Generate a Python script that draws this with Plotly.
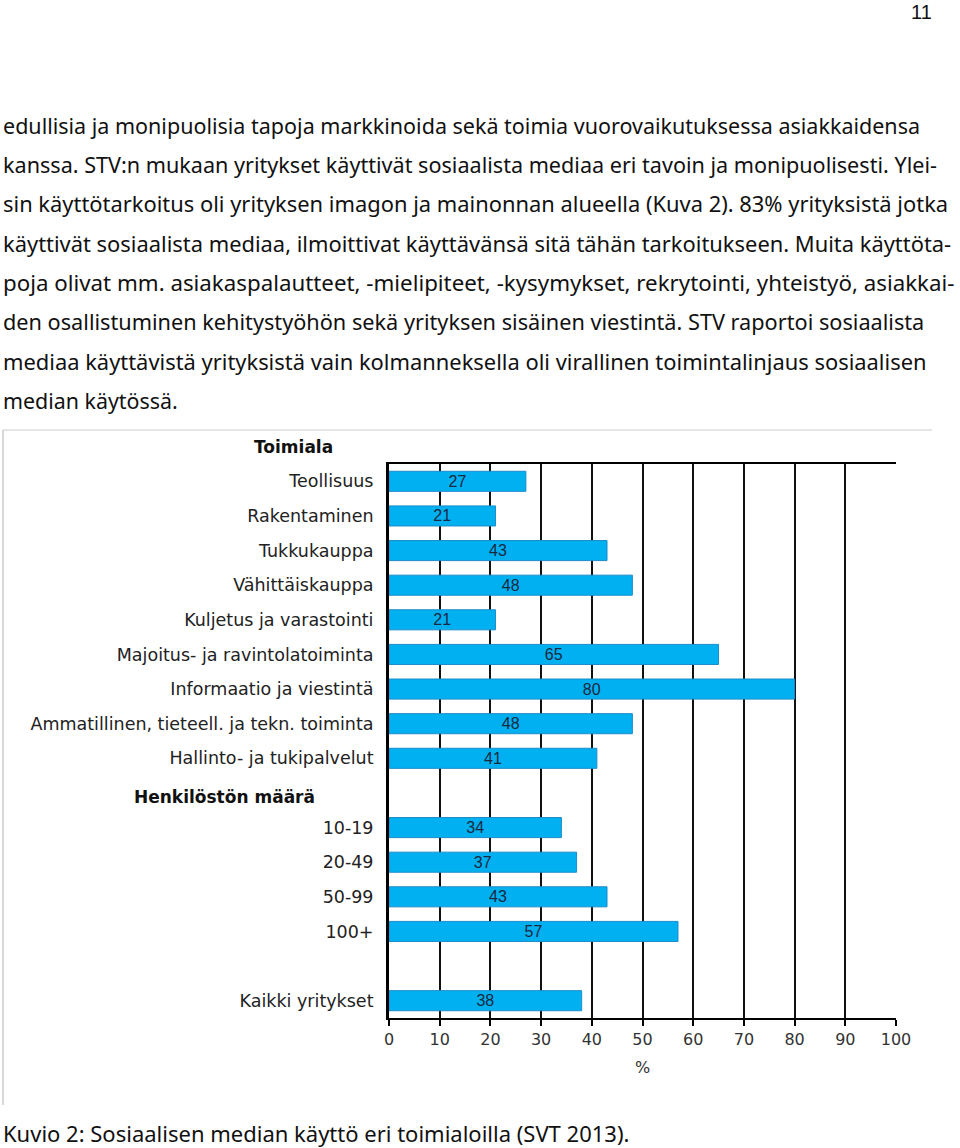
import plotly.graph_objects as go

# ---------------- data ----------------
categories = ["Toimiala", "Teollisuus", "Rakentaminen", "Tukkukauppa", "Vähittäiskauppa",
              "Kuljetus ja varastointi", "Majoitus- ja ravintolatoiminta",
              "Informaatio ja viestintä", "Ammatillinen, tieteell. ja tekn. toiminta",
              "Hallinto- ja tukipalvelut", "Henkilöstön määrä", "10-19", "20-49", "50-99",
              "100+", " ", "Kaikki yritykset"]
values = [None, 27, 21, 43, 48, 21, 65, 80, 48, 41, None, 34, 37, 43, 57, None, 38]
headers = ["Toimiala", "Henkilöstön määrä"]
x_ticks = [0, 10, 20, 30, 40, 50, 60, 70, 80, 90, 100]
x_title = "%"

body_lines = [
    "edullisia ja monipuolisia tapoja markkinoida sekä toimia vuorovaikutuksessa asiakkaidensa",
    "kanssa. STV:n mukaan yritykset käyttivät sosiaalista mediaa eri tavoin ja monipuolisesti. Ylei-",
    "sin käyttötarkoitus oli yrityksen imagon ja mainonnan alueella (Kuva 2). 83% yrityksistä jotka",
    "käyttivät sosiaalista mediaa, ilmoittivat käyttävänsä sitä tähän tarkoitukseen. Muita käyttöta-",
    "poja olivat mm. asiakaspalautteet, -mielipiteet, -kysymykset, rekrytointi, yhteistyö, asiakkai-",
    "den osallistuminen kehitystyöhön sekä yrityksen sisäinen viestintä. STV raportoi sosiaalista",
    "mediaa käyttävistä yrityksistä vain kolmanneksella oli virallinen toimintalinjaus sosiaalisen",
    "median käytössä.",
]
caption = "Kuvio 2: Sosiaalisen median käyttö eri toimialoilla (SVT 2013)."
page_number = "11"

# ---------------- layout geometry (pixels) ----------------
W, H = 960, 1148
PL, PR, PT, PB = 389, 896, 464, 1018


def px(x):
    return (x - PL) / (PR - PL)


def py(y):
    return (PB - y) / (PB - PT)


fig = go.Figure()
fig.add_trace(go.Bar(
    x=values, y=categories, orientation="h",
    marker=dict(color="#00B0F0", line=dict(color="#1C8CC8", width=1)),
    width=0.58,
    text=[str(v) if v is not None else "" for v in values],
    textposition="inside", insidetextanchor="middle", textangle=0,
    textfont=dict(family="Liberation Sans, Arial", size=16, color="#1B2840"),
    hoverinfo="skip",
))

tickvals = [c for c in categories if c not in headers]
fig.update_yaxes(
    type="category", categoryorder="array", categoryarray=categories,
    range=[len(categories) - 0.5, 0.5],
    tickvals=tickvals, ticktext=tickvals,
    showgrid=False, showline=True, linecolor="black", linewidth=3,
    ticks="", ticklabelstandoff=9,
    tickfont=dict(family="DejaVu Sans", size=17.5, color="#222222"),
    zeroline=False,
)
fig.update_xaxes(
    range=[0, 100], tickvals=x_ticks, ticktext=[str(t) for t in x_ticks],
    showgrid=True, gridcolor="#111111", gridwidth=1.5,
    showline=True, linecolor="black", linewidth=1.5, mirror=True,
    ticks="outside", ticklen=6, tickcolor="black", tickwidth=1.5,
    tickfont=dict(family="DejaVu Sans", size=16, color="#333333"),
    title=dict(text=x_title, font=dict(family="DejaVu Sans", size=16, color="#333333"), standoff=14),
    zeroline=False,
)

annotations = []
# section headers
annotations.append(dict(text="<b>Toimiala</b>", xref="paper", yref="paper", x=px(335), y=py(447),
                        xanchor="right", yanchor="middle", showarrow=False,
                        font=dict(family="DejaVu Sans", size=17, color="#111111")))
annotations.append(dict(text="<b>Henkilöstön määrä</b>", xref="paper", yref="paper", x=px(317),
                        y=py(797), xanchor="right", yanchor="middle", showarrow=False,
                        font=dict(family="DejaVu Sans", size=17, color="#111111")))

line_y = [125, 164, 203, 243, 282, 322, 361, 401]
line_size = [21.5, 21.6, 21.9, 21.9, 22.3, 21.7, 21.9, 21.4]
for txt, yy, fs in zip(body_lines, line_y, line_size):
    annotations.append(dict(text=txt, xref="paper", yref="paper", x=px(1), y=py(yy),
                            xanchor="left", yanchor="middle", showarrow=False,
                            font=dict(family="Noto Sans", size=fs, color="#111111")))
annotations.append(dict(text=caption, xref="paper", yref="paper", x=px(1), y=py(1133),
                        xanchor="left", yanchor="middle", showarrow=False,
                        font=dict(family="Noto Sans", size=22, color="#111111")))
annotations.append(dict(text=page_number, xref="paper", yref="paper", x=px(934), y=py(12),
                        xanchor="right", yanchor="middle", showarrow=False,
                        font=dict(family="Liberation Sans, Arial", size=20, color="#111111")))

shapes = [
    dict(type="line", xref="paper", yref="paper", x0=px(3), x1=px(932), y0=py(430), y1=py(430),
         line=dict(color="#CCCCCC", width=1)),
    dict(type="line", xref="paper", yref="paper", x0=px(3), x1=px(3), y0=py(430), y1=py(1105),
         line=dict(color="#CCCCCC", width=1.5)),
]

fig.update_layout(
    width=W, height=H, autosize=False,
    margin=dict(l=PL, r=W - PR, t=PT, b=H - PB, pad=0),
    paper_bgcolor="white", plot_bgcolor="white",
    showlegend=False, bargap=0.4,
    annotations=annotations, shapes=shapes,
    uniformtext=dict(minsize=16, mode="show"),
)

fig.write_html("out.html", config={"displayModeBar": False},
               post_script="document.body.style.margin='0px';document.body.style.overflow='hidden';")
